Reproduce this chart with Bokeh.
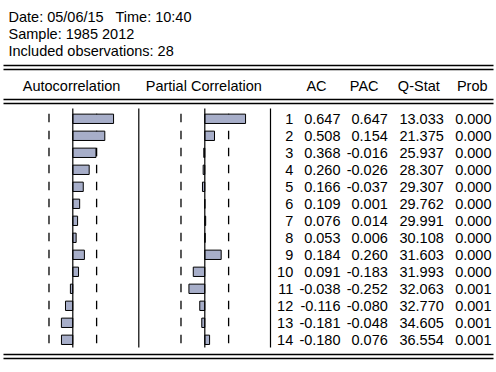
from bokeh.plotting import figure
from bokeh.models import Range1d, ColumnDataSource
from bokeh.core.properties import value
from bokeh.embed import file_html
from bokeh.resources import INLINE
import math

# ---------------- data ----------------
header_lines = ["Date: 05/06/15\u00a0\u00a0 Time: 10:40", "Sample: 1985 2012", "Included observations: 28"]
n_obs = 28
lags = list(range(1, 15))
ac = [0.647, 0.508, 0.368, 0.260, 0.166, 0.109, 0.076, 0.053, 0.184, 0.091, -0.038, -0.116, -0.181, -0.180]
pac = [0.647, 0.154, -0.016, -0.026, -0.037, 0.001, 0.014, 0.006, 0.260, -0.183, -0.252, -0.080, -0.048, 0.076]
qstat = [13.033, 21.375, 25.937, 28.307, 29.307, 29.762, 29.991, 30.108, 31.603, 31.993, 32.063, 32.770, 34.605, 36.554]
prob = [0.000, 0.000, 0.000, 0.000, 0.000, 0.000, 0.000, 0.000, 0.000, 0.000, 0.001, 0.001, 0.001, 0.001]
col_titles = ["Autocorrelation", "Partial Correlation", "AC", "PAC", "Q-Stat", "Prob"]

# ---------------- layout (page pixels) ----------------
W, H = 496, 372
ROW1_Y, ROW_H = 118.3, 17.0
SCALE = 63.0            # px per correlation unit
ACF_ZERO, PACF_ZERO = 72.3, 204.3
FONT = "Liberation Sans"
FS = "14.5px"
BAR_COLOR = "#A7AEC9"

def lag_of(py):
    return 1 + (py - ROW1_Y) / ROW_H

p = figure(width=W, height=H, output_backend="svg", toolbar_location=None,
           x_range=Range1d(0, W), y_range=Range1d(H, 0),
           min_border=0, outline_line_color=None, background_fill_color="white")
p.axis.visible = False
p.grid.visible = False
p.extra_y_ranges = {"lag": Range1d(lag_of(H), lag_of(0))}
p.extra_x_ranges = {
    "acf": Range1d(-ACF_ZERO / SCALE, (W - ACF_ZERO) / SCALE),
    "pacf": Range1d(-PACF_ZERO / SCALE, (W - PACF_ZERO) / SCALE),
}

TXT = dict(text_font=value(FONT), text_font_size=value(FS), text_baseline="middle", text_color="black")

# header info text
p.text(x=[8, 8, 8], y=[16.7, 33.5, 50.5], text=header_lines, text_align="left", **TXT)

# horizontal double rules
for yy in [65, 69, 99, 103, 354, 358]:
    p.segment(x0=[3], x1=[493], y0=[yy], y1=[yy], line_color="black", line_width=1.3)

# column titles
title_x = [71, 203.3, 316, 363.7, 418.3, 471.7]
p.text(x=title_x, y=[85.5] * 6, text=col_titles, text_align="center", **TXT)

# vertical separators
for xx in [138.3, 270]:
    p.segment(x0=[xx], x1=[xx], y0=[108], y1=[347], line_color="black", line_width=1.2)

bound = 2 / math.sqrt(n_obs)
src = ColumnDataSource(dict(lag=lags, ac=ac, pac=pac,
                            top=[l - 0.29 for l in lags], bot=[l + 0.2 for l in lags],
                            lo=[-bound] * len(lags), hi=[bound] * len(lags)))

for name, col in [("acf", "ac"), ("pacf", "pac")]:
    # dashed confidence bounds (drawn under the bars)
    for side in ["lo", "hi"]:
        p.segment(x0=side, x1=side, y0="top", y1="bot", source=src, x_range_name=name, y_range_name="lag",
                  line_color="black", line_width=1.3)
    p.hbar(y="lag", left=0, right=col, height=0.55, source=src, x_range_name=name, y_range_name="lag",
           fill_color=BAR_COLOR, line_color="black", line_width=1)
    p.segment(x0=[0], x1=[0], y0=[108], y1=[347], x_range_name=name, line_color="black", line_width=1.2)

# table
p.text(x=[292.7] * len(lags), y=lags, text=[str(l) for l in lags],
       y_range_name="lag", text_align="right", **TXT)
for xr, vals in [(340, ac), (387.3, pac), (443.3, qstat), (491, prob)]:
    p.text(x=[xr] * len(vals), y=lags, text=["%.3f" % v for v in vals], y_range_name="lag",
           text_align="right", **TXT)

open("out.html", "w").write(file_html(p, INLINE))
